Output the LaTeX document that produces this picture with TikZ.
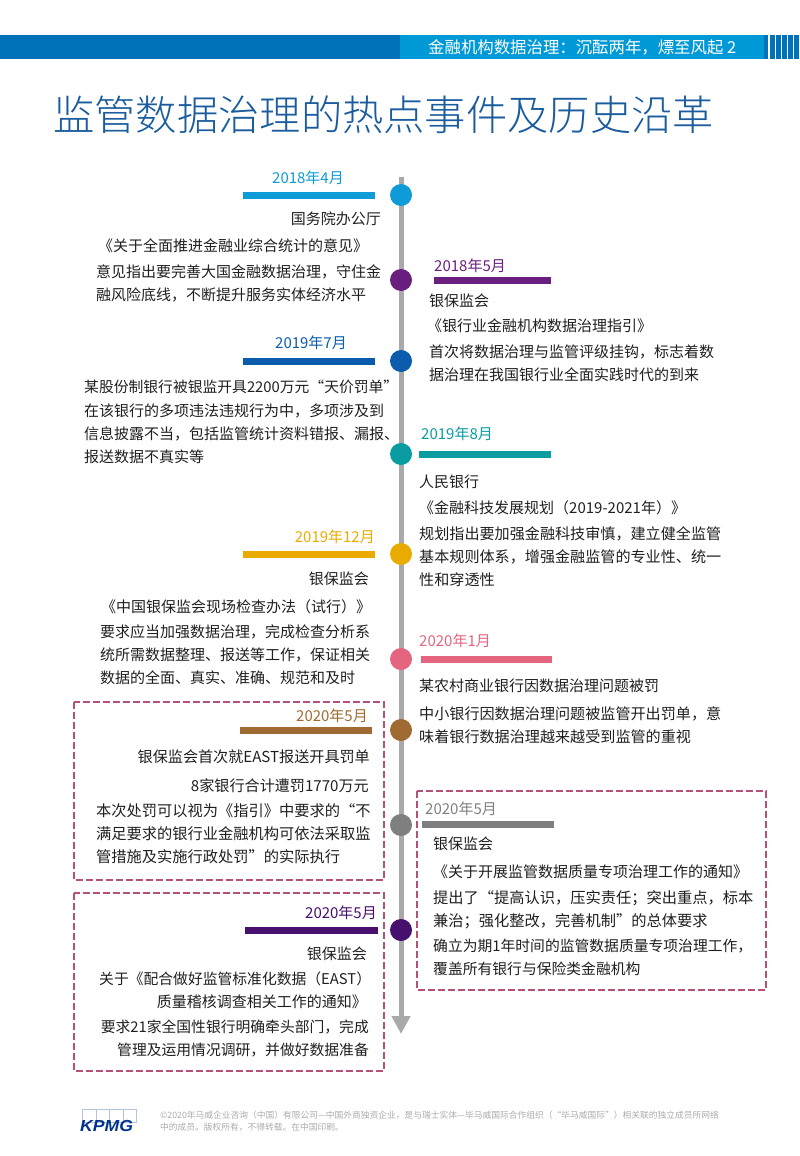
\documentclass[tikz,border=0pt]{standalone}
\usepackage{fontspec}
\setmainfont{Noto Sans CJK SC}
\newfontfamily\titlefont{Noto Sans CJK SC Light}
\newfontfamily\logofont{Liberation Sans}
\usetikzlibrary{arrows.meta}
\definecolor{cA}{HTML}{0E9BD8}
\definecolor{cB}{HTML}{6A1F7F}
\definecolor{cC}{HTML}{0B5CAD}
\definecolor{cD}{HTML}{0A9CA0}
\definecolor{cE}{HTML}{EAAB00}
\definecolor{cF}{HTML}{E5657E}
\definecolor{cG}{HTML}{A06A33}
\definecolor{cH}{HTML}{7F7F7F}
\definecolor{cI}{HTML}{470F6E}
\definecolor{dashc}{HTML}{B5507A}
\definecolor{spine}{HTML}{A9A9A9}
\definecolor{titlec}{HTML}{1A5C9E}
\definecolor{hdark}{HTML}{0072BA}
\definecolor{hlight}{HTML}{0099D8}
\definecolor{logoc}{HTML}{00338D}
\definecolor{logob}{HTML}{B4C4DC}
\tikzset{
  x=1pt,y=-1pt,
  dot/.style={circle,inner sep=0pt,minimum size=22pt,fill=#1},
  bar/.style={fill=#1,draw=none},
  datelabel/.style={inner sep=0pt,yshift=-1pt,font=\fontsize{15}{15}\selectfont,text=#1},
  body/.style={inner sep=0pt,yshift=-1pt,font=\fontsize{15}{23}\selectfont,text=black!88},
  bodyl/.style={body,anchor=west,align=left},
  bodyr/.style={body,anchor=east,align=right},
  wide/.style={font=\fontsize{15.1}{23}\selectfont},
  wider/.style={font=\fontsize{15.25}{23}\selectfont},
  narrower/.style={font=\fontsize{14.8}{23}\selectfont},
  callout/.style={draw=dashc,line width=1.4pt,dash pattern=on 7pt off 3pt},
}
\begin{document}
\begin{tikzpicture}
\useasboundingbox (0,0) rectangle (800,1156);
% header
\fill[hdark] (0,35) rectangle (400,59);
\fill[hlight] (400,35) rectangle (763.5,59);
\foreach \xs in {763.5,770,776,782,788,794}{\fill[hdark] (\xs,35) rectangle ++(4.8,24);}
\node[inner sep=0pt,text=white,anchor=west,font=\fontsize{16.4}{17}\selectfont] (hdr) at (428,47) {金融机构数据治理：沉酝两年，熛至风起 2};
\node[inner sep=0pt,text=titlec,anchor=west,font=\titlefont\fontsize{41.3}{42}\selectfont] (title) at (53,114.5) {监管数据治理的热点事件及历史沿革};
% boxes
\draw[callout] (74,702) rectangle (384,880);
\draw[callout] (74,893) rectangle (384,1071);
\draw[callout] (417,791) rectangle (766,990);
% spine
\coordinate (top) at (401,177);
\coordinate (tip) at (401,1034);
\draw[spine,line width=5pt,-{Triangle[length=18pt,width=18pt]}] (top) -- (tip);
% dots
\node[dot=cA] (d1) at (401,195) {};
\node[dot=cB] (d2) at (401,280) {};
\node[dot=cC] (d3) at (401,361) {};
\node[dot=cD] (d4) at (401,454) {};
\node[dot=cE] (d5) at (401,554) {};
\node[dot=cF] (d6) at (401,659) {};
\node[dot=cG] (d7) at (401,730) {};
\node[dot=cH] (d8) at (401,825) {};
\node[dot=cI] (d9) at (401,930) {};
% bars
\fill[bar=cA] (243,192) rectangle (375,199);
\fill[bar=cB] (434,277) rectangle (551,284);
\fill[bar=cC] (243,358) rectangle (375,365);
\fill[bar=cD] (419,451) rectangle (551,458);
\fill[bar=cE] (243,551) rectangle (375,558);
\fill[bar=cF] (421,656) rectangle (552,663);
\fill[bar=cG] (240,727) rectangle (372,734);
\fill[bar=cH] (422,821) rectangle (554,828);
\fill[bar=cI] (245,927) rectangle (378,934);
% dates
\node[datelabel=cA,anchor=east] (t1) at (344,177) {2018年4月};
\node[datelabel=cB,anchor=west] (t2) at (434,265) {2018年5月};
\node[datelabel=cC,anchor=east] (t3) at (347,342) {2019年7月};
\node[datelabel=cD,anchor=west] (t4) at (421,433) {2019年8月};
\node[datelabel=cE,anchor=east] (t5) at (375,536) {2019年12月};
\node[datelabel=cF,anchor=west] (t6) at (419,640) {2020年1月};
\node[datelabel=cG,anchor=east] (t7) at (368,715) {2020年5月};
\node[datelabel=cH,anchor=west] (t8) at (425,808) {2020年5月};
\node[datelabel=cI,anchor=east] (t9) at (377,912) {2020年5月};
% left 1
\node[bodyr] (a1) at (381,218) {国务院办公厅};
\node[bodyl] (a2) at (98,245) {《关于全面推进金融业综合统计的意见》};
\node[bodyl] (a3) at (96,282) {意见指出要完善大国金融数据治理，守住金\\融风险底线，不断提升服务实体经济水平};
% right 1
\node[bodyl] (b1) at (429,300) {银保监会};
\node[bodyl] (b2) at (427,325) {《银行业金融机构数据治理指引》};
\node[bodyl] (b3) at (429,362) {首次将数据治理与监管评级挂钩，标志着数\\据治理在我国银行业全面实践时代的到来};
% left 2
\node[bodyl,narrower] (c1) at (84,386) {某股份制银行被银监开具2200万元“天价罚单”};
\node[bodyl] (c2) at (84,433) {在该银行的多项违法违规行为中，多项涉及到\\信息披露不当，包括监管统计资料错报、漏报、\\报送数据不真实等};
% right 2
\node[bodyl] (e1) at (419,481) {人民银行};
\node[bodyl] (e2) at (419,507) {《金融科技发展规划（2019-2021年）》};
\node[bodyl,wide] (e3) at (419,556) {规划指出要加强金融科技审慎，建立健全监管\\基本规则体系，增强金融监管的专业性、统一\\性和穿透性};
% left 3
\node[bodyr] (f1) at (369,578) {银保监会};
\node[bodyl] (f2) at (101,606) {《中国银保监会现场检查办法（试行）》};
\node[bodyl] (f3) at (100,654) {要求应当加强数据治理，完成检查分析系\\统所需数据整理、报送等工作，保证相关\\数据的全面、真实、准确、规范和及时};
% right 3
\node[bodyl] (g1) at (419,685) {某农村商业银行因数据治理问题被罚};
\node[bodyl,wide] (g2) at (419,724) {中小银行因数据治理问题被监管开出罚单，意\\味着银行数据治理越来越受到监管的重视};
% left 4
\node[bodyr,wide] (h1) at (370,756) {银保监会首次就EAST报送开具罚单};
\node[bodyr,wide] (h2) at (369,785) {8家银行合计遭罚1770万元};
\node[bodyl,wider] (h3) at (96,832.5) {本次处罚可以视为《指引》中要求的“不\\满足要求的银行业金融机构可依法采取监\\管措施及实施行政处罚”的实际执行};
% right 4
\node[bodyl] (i1) at (433,843) {银保监会};
\node[bodyl] (i2) at (433,871) {《关于开展监管数据质量专项治理工作的通知》};
\node[bodyl,wider] (i3) at (433,908.5) {提出了“提高认识，压实责任；突出重点，标本\\兼治；强化整改，完善机制”的总体要求};
\node[bodyl,narrower] (i4) at (433,956.5) {确立为期1年时间的监管数据质量专项治理工作，\\覆盖所有银行与保险类金融机构};
% left 5
\node[bodyr] (j1) at (367,953) {银保监会};
\node[bodyl,narrower] (j2) at (99,978) {关于《配合做好监管标准化数据（EAST）};
\node[bodyr] (j2b) at (367,1001) {质量稽核调查相关工作的通知》};
\node[bodyr,narrower] (j3) at (369,1037) {要求21家全国性银行明确牵头部门，完成\\管理及运用情况调研，并做好数据准备};
% footer
\foreach \xs in {82.5,96,109.5,123}{\draw[logob,line width=0.7pt] (\xs,1109) rectangle ++(13.5,13);}
\node[inner sep=0pt,anchor=west,xscale=1.1,text=logoc,font=\logofont\fontsize{16}{16}\selectfont\bfseries\itshape] (logo) at (80,1125.5) {KPMG};
\node[inner sep=0pt,anchor=west,align=left,text=black!33,font=\fontsize{8.75}{12}\selectfont] (foot) at (160,1121) {©2020年马威企业咨询（中国）有限公司—中国外商独资企业，是与瑞士实体—毕马威国际合作组织（“毕马威国际”）相关联的独立成员所网络\\中的成员。版权所有，不得转载。在中国印刷。};
\end{tikzpicture}
\end{document}
